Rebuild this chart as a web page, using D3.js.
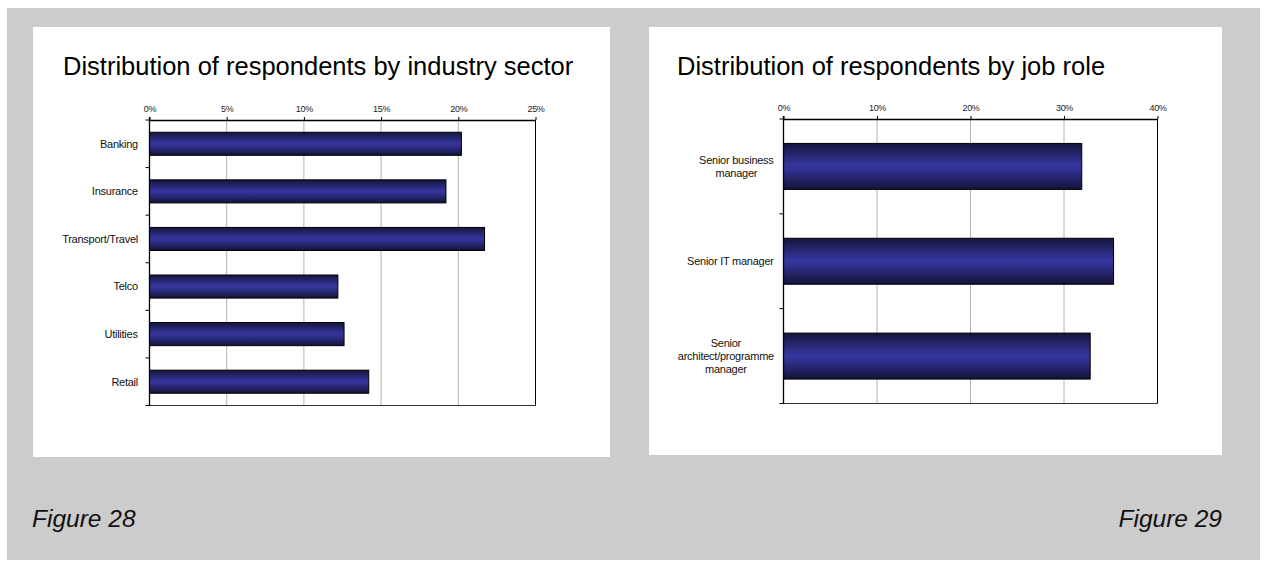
<!DOCTYPE html>
<html>
<head>
<meta charset="utf-8">
<script src="https://cdn.jsdelivr.net/npm/d3@7/dist/d3.min.js"></script>
<style>
  html, body { margin: 0; padding: 0; background: #ffffff; }
  svg { display: block; font-family: "Liberation Sans", Arial, sans-serif; }
</style>
</head>
<body>
<svg id="chart" width="1267" height="567"></svg>
<script>
// ---- Data ----
const sectorCategories = ["Banking", "Insurance", "Transport/Travel", "Telco", "Utilities", "Retail"];
const sectorValues = [20.2, 19.2, 21.7, 12.2, 12.6, 14.2];
const sectorTicks = [0, 5, 10, 15, 20, 25];

const roleCategories = ["Senior business manager", "Senior IT manager", "Senior architect/programme manager"];
const roleLabelLines = [["Senior business", "manager"], ["Senior IT manager"], ["Senior", "architect/programme", "manager"]];
const roleValues = [31.9, 35.3, 32.8];
const roleTicks = [0, 10, 20, 30, 40];

const titles = ["Distribution of respondents by industry sector", "Distribution of respondents by job role"];
const figureLabels = ["Figure 28", "Figure 29"];

// ---- Drawing ----
const svg = d3.select("#chart");

svg.append("rect").attr("x", 7).attr("y", 8).attr("width", 1253).attr("height", 552).attr("fill", "#cccccc");

const defs = svg.append("defs");
const grad = defs.append("linearGradient").attr("id", "barGrad")
  .attr("x1", 0).attr("y1", 0).attr("x2", 0).attr("y2", 1);
grad.append("stop").attr("offset", "0%").attr("stop-color", "#15153c");
grad.append("stop").attr("offset", "45%").attr("stop-color", "#34349a");
grad.append("stop").attr("offset", "55%").attr("stop-color", "#333398");
grad.append("stop").attr("offset", "100%").attr("stop-color", "#131338");

function drawChart(opt) {
  const g = svg.append("g");
  // panel
  g.append("rect").attr("x", opt.panel[0]).attr("y", opt.panel[1])
    .attr("width", opt.panel[2]).attr("height", opt.panel[3]).attr("fill", "#ffffff");
  // title
  g.append("text").attr("x", opt.titleX).attr("y", opt.titleY)
    .attr("font-size", 25.5).attr("fill", "#000").text(opt.title);

  const x = d3.scaleLinear().domain([0, d3.max(opt.ticks)]).range(opt.xRange);
  const y = d3.scaleBand().domain(opt.categories).range(opt.yRange)
    .paddingInner(0.515).paddingOuter(0.2575);

  const [top, bottom] = opt.yRange;
  // gridlines
  g.append("g").selectAll("line").data(opt.ticks.slice(1, -1)).join("line")
    .attr("x1", d => x(d)).attr("x2", d => x(d))
    .attr("y1", top).attr("y2", bottom)
    .attr("stroke", "#b4b4b4").attr("stroke-width", 1);

  // plot border (right and bottom)
  g.append("line").attr("x1", x(d3.max(opt.ticks))).attr("x2", x(d3.max(opt.ticks)))
    .attr("y1", top).attr("y2", bottom).attr("stroke", "#000").attr("stroke-width", 1);
  g.append("line").attr("x1", opt.xRange[0] - 3).attr("x2", x(d3.max(opt.ticks)))
    .attr("y1", bottom).attr("y2", bottom).attr("stroke", "#333").attr("stroke-width", 1);

  // bars
  g.append("g").selectAll("rect").data(opt.values).join("rect")
    .attr("x", x(0))
    .attr("y", (d, i) => y(opt.categories[i]))
    .attr("width", d => x(d) - x(0))
    .attr("height", y.bandwidth())
    .attr("fill", "url(#barGrad)")
    .attr("stroke", "#000").attr("stroke-width", 1);

  // top value axis
  const axis = d3.axisTop(x).tickValues(opt.ticks).tickFormat(d => d + "%").tickSize(3).tickSizeOuter(0).tickPadding(5);
  const ax = g.append("g").attr("transform", `translate(0,${top})`).call(axis);
  ax.select(".domain").attr("stroke", "#000").attr("stroke-width", 1.3);
  ax.selectAll(".tick line").attr("stroke", "#000");
  ax.selectAll(".tick text").attr("font-size", 9).attr("fill", "#222")
    .attr("font-family", "'Liberation Sans', Arial, sans-serif").attr("letter-spacing", "-0.3px");

  // left category axis line and boundary ticks
  g.append("line").attr("x1", x(0)).attr("x2", x(0)).attr("y1", top - 3).attr("y2", bottom)
    .attr("stroke", "#000").attr("stroke-width", 1.3);
  const bounds = d3.range(opt.categories.length + 1).map(i => top + i * y.step());
  g.append("g").selectAll("line").data(bounds).join("line")
    .attr("x1", x(0) - 4).attr("x2", x(0))
    .attr("y1", d => d).attr("y2", d => d)
    .attr("stroke", "#000").attr("stroke-width", 1);

  // category labels (multi-line, centered block, right aligned near axis)
  const lab = g.append("g").attr("font-size", 11).attr("fill", "#111").attr("letter-spacing", "-0.25px");
  opt.categories.forEach((c, i) => {
    const lines = opt.labelLines[i];
    const cy = y(c) + y.bandwidth() / 2;
    const lh = 13.4;
    const t = lab.append("text").attr("text-anchor", "middle");
    lines.forEach((ln, k) => {
      t.append("tspan").attr("x", 0).attr("y", cy + (k - (lines.length - 1) / 2) * lh).attr("dy", "0.35em").text(ln);
    });
    const w = t.node().getBBox().width;
    t.attr("transform", `translate(${opt.labelRight - w / 2},0)`);
  });
}

drawChart({
  panel: [33, 27, 577, 430],
  title: titles[0], titleX: 63, titleY: 75,
  categories: sectorCategories,
  labelLines: sectorCategories.map(c => [c]),
  values: sectorValues,
  ticks: sectorTicks,
  xRange: [149.5, 535.5],
  yRange: [120, 405.5],
  labelRight: 138
});

drawChart({
  panel: [649, 27, 573, 428],
  title: titles[1], titleX: 677, titleY: 75,
  categories: roleCategories,
  labelLines: roleLabelLines,
  values: roleValues,
  ticks: roleTicks,
  xRange: [783.5, 1157.5],
  yRange: [119, 403.5],
  labelRight: 774
});

// figure captions
svg.append("text").attr("x", 32).attr("y", 527).attr("font-size", 24.5)
  .attr("font-style", "italic").attr("fill", "#111").text(figureLabels[0]);
svg.append("text").attr("x", 1222).attr("y", 527).attr("font-size", 24.5)
  .attr("text-anchor", "end").attr("font-style", "italic").attr("fill", "#111").text(figureLabels[1]);
</script>
</body>
</html>
